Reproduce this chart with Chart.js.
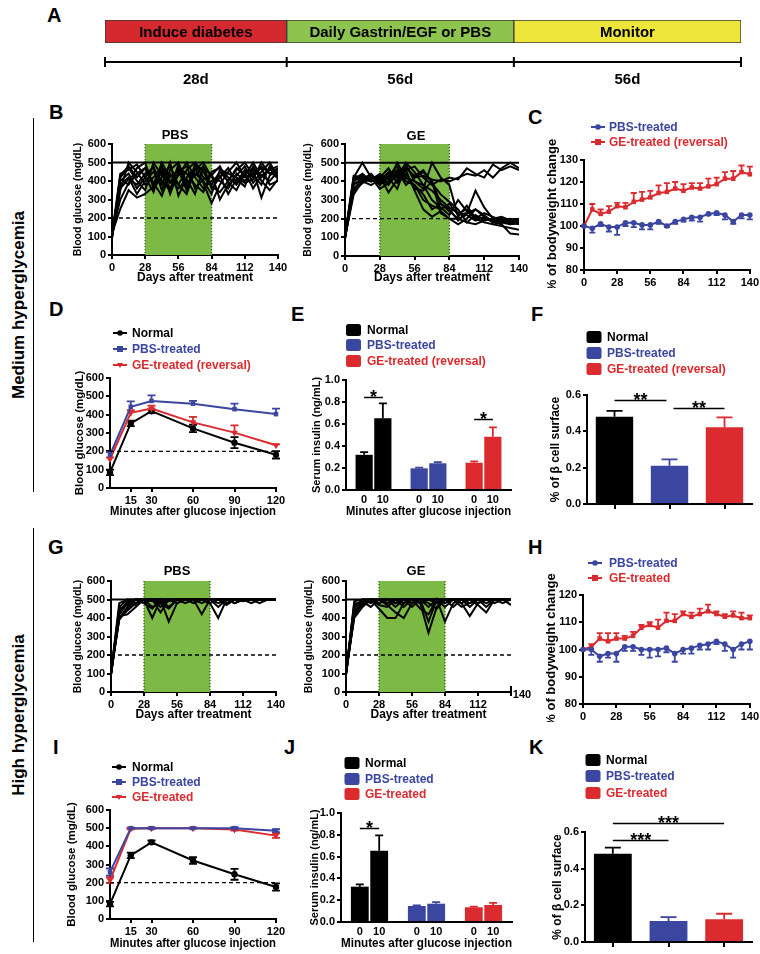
<!DOCTYPE html>
<html><head><meta charset="utf-8">
<script src="https://cdn.jsdelivr.net/npm/chart.js@4.4.1/dist/chart.umd.min.js"></script>
<style>
html,body{margin:0;padding:0;background:#fff;}
body{width:760px;height:954px;position:relative;overflow:hidden;font-family:'Liberation Sans',Arial,Helvetica,sans-serif;}
canvas{position:absolute;}
.lab{position:absolute;font-weight:bold;font-size:20px;line-height:20px;color:#000;}
.side{position:absolute;font-weight:bold;font-size:17px;line-height:20px;white-space:nowrap;transform:translate(-50%,-50%) rotate(-90deg);}
.vline{position:absolute;width:1px;background:#000;left:33px;}
</style></head><body>
<div class="lab" style="left:47px;top:5px">A</div>
<div class="lab" style="left:49px;top:102px">B</div>
<div class="lab" style="left:528px;top:107px">C</div>
<div class="lab" style="left:49px;top:299px">D</div>
<div class="lab" style="left:291px;top:304px">E</div>
<div class="lab" style="left:531px;top:304px">F</div>
<div class="lab" style="left:48px;top:537px">G</div>
<div class="lab" style="left:528px;top:537px">H</div>
<div class="lab" style="left:53px;top:737px">I</div>
<div class="lab" style="left:284px;top:737px">J</div>
<div class="lab" style="left:529px;top:737px">K</div>
<div class="side" style="left:19px;top:305px">Medium hyperglycemia</div>
<div class="side" style="left:19px;top:715px">High hyperglycemia</div>
<div class="vline" style="top:118px;height:374px"></div>
<div class="vline" style="top:528px;height:414px"></div>
<script>
const FONT = "'Liberation Sans', Arial, Helvetica, sans-serif";
const BLUE = '#3a469f', RED = '#dc2b2f', BLACK = '#000000';
const groupColors = [BLACK, BLUE, RED];

// ---------- Panel A ----------
const phaseNames = ['Induce diabetes', 'Daily Gastrin/EGF or PBS', 'Monitor'];
const phaseDurations = ['28d', '56d', '56d'];
const phaseWeight = [4, 5, 5];
const phaseColors = ['#d42a2f', '#8dc34f', '#eee53a'];

// ---------- Glucose time courses (B, G) ----------
const days = [0, 7, 14, 21, 28, 35, 42, 49, 56, 63, 70, 77, 84, 91, 98, 105, 112, 119, 126, 133, 140];
const dayTicksStep = 28;
const treatWindow = [28, 84];
const glucoseCap = 500;
const diabetesThreshold = 200;

const bPBSMice = [
  [100, 430, 480, 420, 470, 380, 500, 420, 460, 350, 490, 420, 380, 450, 400, 470, 430, 500, 420, 470, 410],
  [110, 400, 440, 360, 420, 480, 350, 460, 500, 390, 430, 480, 360, 420, 470, 390, 460, 420, 480, 440, 430],
  [95, 350, 500, 450, 380, 420, 470, 330, 450, 480, 360, 410, 440, 300, 380, 430, 480, 390, 450, 500, 420],
  [120, 300, 390, 470, 500, 360, 420, 480, 380, 330, 460, 500, 420, 400, 360, 440, 400, 460, 310, 430, 460],
  [105, 380, 420, 330, 400, 450, 380, 500, 320, 420, 470, 390, 280, 380, 450, 500, 420, 440, 470, 380, 400],
  [90, 420, 470, 400, 350, 500, 430, 390, 470, 440, 380, 340, 450, 470, 420, 380, 450, 360, 430, 460, 480],
  [115, 250, 350, 310, 330, 370, 450, 360, 430, 500, 420, 360, 400, 430, 330, 410, 370, 480, 400, 350, 410],
  [100, 410, 380, 440, 470, 390, 320, 440, 380, 460, 500, 450, 370, 340, 400, 460, 500, 430, 380, 480, 440],
  [110, 440, 460, 490, 420, 340, 480, 400, 360, 410, 330, 470, 430, 480, 390, 350, 440, 470, 430, 400, 450],
  [95, 360, 410, 380, 440, 470, 400, 350, 490, 370, 440, 400, 330, 460, 440, 420, 390, 410, 500, 440, 470]
];
const bGEMice = [
  [100, 420, 410, 400, 420, 380, 450, 420, 400, 380, 350, 300, 260, 230, 250, 210, 200, 190, 180, 170, 180],
  [90, 400, 430, 410, 390, 430, 480, 400, 380, 330, 250, 280, 240, 200, 220, 190, 210, 180, 190, 180, 190],
  [110, 380, 420, 430, 400, 450, 420, 500, 450, 380, 300, 260, 220, 300, 240, 200, 180, 170, 160, 150, 140],
  [100, 330, 400, 380, 410, 440, 400, 460, 480, 420, 380, 410, 400, 420, 440, 430, 460, 420, 470, 500, 470],
  [95, 350, 390, 420, 400, 420, 460, 380, 420, 430, 410, 400, 420, 410, 470, 440, 420, 490, 460, 480, 460],
  [100, 420, 500, 420, 380, 420, 360, 480, 420, 450, 400, 280, 250, 190, 230, 250, 220, 180, 170, 120, 115],
  [105, 410, 440, 400, 420, 470, 390, 440, 360, 350, 400, 230, 200, 170, 200, 250, 210, 190, 200, 180, 170],
  [100, 360, 410, 440, 390, 400, 500, 420, 380, 300, 270, 250, 280, 220, 230, 350, 260, 200, 180, 190, 180],
  [110, 430, 420, 410, 440, 410, 440, 470, 430, 460, 390, 330, 290, 250, 180, 220, 190, 200, 210, 190, 200],
  [95, 390, 400, 420, 360, 390, 430, 490, 400, 360, 500, 420, 380, 210, 270, 200, 230, 210, 190, 170, 175],
  [100, 410, 420, 400, 430, 340, 410, 460, 350, 250, 210, 240, 200, 200, 180, 170, 190, 200, 190, 200, 190]
];
const gPBSMice = [
  [100, 400, 460, 500, 500, 500, 480, 500, 500, 500, 500, 500, 500, 480, 500, 500, 500, 500, 500, 500, 500],
  [90, 420, 480, 470, 500, 400, 500, 490, 500, 500, 500, 420, 500, 500, 500, 500, 500, 500, 500, 500, 500],
  [110, 390, 450, 500, 480, 450, 500, 380, 480, 500, 500, 500, 480, 400, 500, 480, 500, 500, 500, 500, 500],
  [100, 440, 480, 500, 500, 500, 430, 500, 500, 500, 500, 500, 500, 500, 470, 500, 500, 480, 500, 500, 500],
  [95, 410, 420, 460, 500, 460, 480, 450, 500, 500, 500, 480, 500, 460, 500, 500, 490, 500, 500, 500, 500],
  [105, 480, 500, 500, 500, 500, 500, 500, 480, 500, 500, 500, 500, 500, 500, 500, 500, 500, 500, 500, 500],
  [100, 450, 470, 500, 480, 500, 500, 460, 500, 500, 500, 500, 480, 500, 500, 500, 500, 500, 500, 500, 500],
  [110, 400, 440, 480, 500, 490, 500, 500, 500, 500, 480, 500, 500, 500, 480, 500, 500, 500, 500, 500, 500],
  [95, 460, 500, 480, 500, 500, 460, 500, 500, 480, 500, 500, 500, 500, 500, 480, 500, 500, 480, 500, 500],
  [100, 430, 490, 500, 500, 500, 500, 500, 500, 500, 500, 500, 500, 500, 500, 500, 500, 500, 500, 500, 500]
];
const gGEMice = [
  [100, 430, 480, 500, 450, 400, 400, 480, 500, 480, 320, 460, 500, 500, 480, 410, 480, 500, 500, 500, 470],
  [90, 450, 500, 480, 500, 470, 430, 400, 480, 500, 380, 500, 380, 480, 500, 500, 470, 430, 500, 500, 500],
  [110, 400, 460, 500, 480, 500, 480, 500, 460, 500, 500, 480, 500, 500, 460, 480, 500, 500, 480, 500, 500],
  [100, 470, 490, 460, 500, 480, 500, 460, 500, 450, 420, 500, 480, 500, 500, 500, 500, 460, 500, 500, 500],
  [95, 420, 500, 500, 500, 500, 460, 500, 500, 500, 500, 500, 500, 460, 500, 480, 500, 500, 500, 480, 500],
  [105, 480, 480, 500, 470, 460, 500, 480, 500, 500, 480, 450, 500, 500, 500, 500, 480, 500, 500, 500, 500],
  [100, 460, 500, 490, 500, 500, 500, 500, 480, 500, 500, 500, 500, 500, 500, 500, 500, 480, 500, 500, 500],
  [110, 440, 470, 500, 500, 480, 500, 500, 500, 500, 460, 500, 460, 500, 500, 500, 500, 500, 500, 500, 500],
  [95, 490, 500, 500, 500, 500, 500, 500, 500, 480, 500, 500, 500, 500, 480, 500, 500, 500, 500, 500, 500],
  [100, 410, 480, 500, 480, 500, 480, 500, 500, 500, 500, 500, 500, 500, 500, 460, 500, 500, 500, 500, 500]
];

// ---------- Bodyweight (C, H) ----------
const cPBS    = [100, 99, 101, 99.5, 99.5, 101.5, 101.5, 100.5, 100.5, 102, 100, 102, 103, 104, 104, 105.5, 106, 105, 102, 105, 105];
const cPBSErr = [0, 2, 1, 2, 3.5, 1.5, 2, 2, 2, 1, 0.5, 1, 1, 1.5, 2, 0.5, 1, 2, 1, 1.5, 2];
const cGE     = [100, 107.5, 105.5, 106.5, 109, 108.5, 111, 112, 113, 115, 115.5, 117, 116, 117.5, 117, 118, 119, 121.5, 121.5, 124.5, 123.5];
const cGEErr  = [0, 2.5, 2, 2.5, 1.5, 2, 4, 3.5, 3, 3.5, 4, 3, 3, 2, 2.5, 3.5, 3, 3, 3.5, 3, 3.5];
const hPBS    = [100, 100, 97.5, 98.5, 98.5, 101, 101, 100, 100, 100, 100.5, 98.5, 100, 100.5, 101.5, 102, 103, 102, 100, 102, 103];
const hPBSErr = [0, 2, 2, 1.5, 3, 1.5, 1.5, 2, 3, 2.5, 1.5, 3, 1.5, 2, 1.5, 2, 1, 2.5, 3, 2, 3];
const hGE     = [100, 101, 104, 103, 104, 104, 105, 108, 109, 108, 110.5, 110.5, 113, 112, 113, 114, 113, 112, 112.5, 111.5, 111.5];
const hGEErr  = [0, 1, 2, 3, 2, 1, 1.5, 1, 1, 3, 3, 2.5, 1, 1.5, 2, 2.5, 1, 1, 1.5, 2, 1];

// ---------- OGTT (D, I) ----------
const ogttMinutes = [0, 15, 30, 60, 90, 120];
const ogttTicks = [15, 30, 60, 90, 120];
const dNormal = [85, 352, 419, 325, 247, 181];
const dNormalErr = [15, 15, 10, 20, 30, 20];
const dPBS = [181, 443, 475, 460, 430, 403];
const dPBSErr = [15, 30, 30, 15, 30, 30];
const dGE = [157, 410, 434, 358, 302, 233];
const dGEErr = [10, 15, 15, 30, 40, 5];
const iNormal = [82, 350, 422, 322, 246, 176];
const iNormalErr = [12, 15, 10, 18, 30, 20];
const iPBS = [258, 500, 500, 500, 500, 486];
const iPBSErr = [20, 3, 3, 3, 5, 8];
const iGE = [213, 497, 500, 500, 493, 459];
const iGEErr = [15, 3, 3, 3, 6, 12];

// ---------- Serum insulin (E, J) ----------
const insulinTimes = ['0', '10'];
const mediumGroups = ['Normal', 'PBS-treated', 'GE-treated (reversal)'];
const highGroups = ['Normal', 'PBS-treated', 'GE-treated'];
const eIns0 = [0.32, 0.197, 0.248];
const eIns0Err = [0.025, 0.006, 0.012];
const eIns10 = [0.652, 0.243, 0.485];
const eIns10Err = [0.136, 0.01, 0.085];
const jIns0 = [0.324, 0.147, 0.135];
const jIns0Err = [0.022, 0.006, 0.006];
const jIns10 = [0.654, 0.168, 0.156];
const jIns10Err = [0.14, 0.015, 0.02];

// ---------- Beta cell surface (F, K) ----------
const fBeta = [0.48, 0.21, 0.422];
const fBetaErr = [0.033, 0.036, 0.055];
const kBeta = [0.481, 0.114, 0.124];
const kBetaErr = [0.034, 0.022, 0.03];

// ---------- chart defaults ----------
Chart.defaults.font.family = FONT;
Chart.defaults.font.weight = 'bold';
Chart.defaults.color = '#000';
Chart.defaults.animation = false;
Chart.defaults.responsive = false;
Chart.defaults.maintainAspectRatio = false;
Chart.defaults.devicePixelRatio = 1;
Chart.defaults.plugins.legend.display = false;
Chart.defaults.plugins.tooltip.enabled = false;
Chart.defaults.events = [];

function colAt(c, j) { return Array.isArray(c) ? c[j] : c; }

function drawMarker(ctx, style, x, y, r) {
  ctx.beginPath();
  if (style === 'circle') { ctx.arc(x, y, r, 0, Math.PI * 2); }
  else if (style === 'rect') { ctx.rect(x - r, y - r, 2 * r, 2 * r); }
  else if (style === 'triDown') { ctx.moveTo(x - r, y - r * 0.7); ctx.lineTo(x + r, y - r * 0.7); ctx.lineTo(x, y + r); ctx.closePath(); }
  ctx.fill();
}

const decor = {
  id: 'decor',
  beforeDatasetsDraw(chart, args, o) {
    const {ctx, chartArea: a} = chart;
    const x = chart.scales.x, y = chart.scales.y;
    (o.bands || []).forEach(b => {
      const x0 = x.getPixelForValue(b.from), x1 = x.getPixelForValue(b.to);
      ctx.save();
      ctx.fillStyle = '#7cba45';
      ctx.fillRect(x0, a.top, x1 - x0, a.bottom - a.top);
      ctx.strokeStyle = '#2c6a10'; ctx.lineWidth = 1.3; ctx.setLineDash([1.2, 1.8]);
      [x0, x1].forEach(px => { ctx.beginPath(); ctx.moveTo(px, a.top); ctx.lineTo(px, a.bottom); ctx.stroke(); });
      ctx.restore();
    });
    chart.data.datasets.forEach((ds, i) => {
      if (!ds.err) return;
      const meta = chart.getDatasetMeta(i);
      ctx.save();
      ctx.lineWidth = ds.errW || 1.8;
      meta.data.forEach((el, j) => {
        const raw = ds.data[j];
        const v = (raw && typeof raw === 'object') ? raw.y : raw;
        const e = ds.err[j];
        if (!e) return;
        const dir = ds.errDir || 'both';
        const y1 = y.getPixelForValue(dir === 'down' ? v : v + e);
        const y2 = y.getPixelForValue(dir === 'up' ? v : v - e);
        const cw = ds.capW || 3;
        ctx.strokeStyle = colAt(ds.errColor || ds.borderColor || ds.backgroundColor, j);
        ctx.beginPath();
        ctx.moveTo(el.x, y1); ctx.lineTo(el.x, y2);
        if (dir !== 'down') { ctx.moveTo(el.x - cw, y1); ctx.lineTo(el.x + cw, y1); }
        if (dir !== 'up') { ctx.moveTo(el.x - cw, y2); ctx.lineTo(el.x + cw, y2); }
        ctx.stroke();
      });
      ctx.restore();
    });
  },
  afterDatasetsDraw(chart, args, o) {
    const {ctx, chartArea: a} = chart;
    const x = chart.scales.x, y = chart.scales.y;
    const ox = o.ox || 0, oy = o.oy || 0;
    ctx.save();
    (o.hlines || []).forEach(h => {
      const py = y.getPixelForValue(h.v);
      ctx.save();
      ctx.strokeStyle = '#000'; ctx.lineWidth = h.w; ctx.setLineDash(h.dash);
      ctx.beginPath(); ctx.moveTo(a.left, py); ctx.lineTo(a.right, py); ctx.stroke();
      ctx.restore();
    });
    (o.sig || []).forEach(s => {
      const xa = chart.getDatasetMeta(s.a[0]).data[s.a[1]].x + (s.ia || 0);
      const xb = chart.getDatasetMeta(s.b[0]).data[s.b[1]].x - (s.ib || 0);
      const py = Math.round(y.getPixelForValue(s.y)) + 0.5;
      ctx.strokeStyle = '#000'; ctx.lineWidth = 1.5; ctx.setLineDash([]);
      ctx.beginPath(); ctx.moveTo(xa, py); ctx.lineTo(xb, py); ctx.stroke();
      ctx.fillStyle = '#000'; ctx.font = 'bold 18px ' + FONT;
      ctx.textAlign = 'center'; ctx.textBaseline = 'alphabetic';
      ctx.fillText(s.text, (xa + xb) / 2, py + 5);
    });
    if (o.barTicks) {
      ctx.fillStyle = '#000'; ctx.font = 'bold 11px ' + FONT;
      ctx.textAlign = 'center'; ctx.textBaseline = 'middle';
      o.barTicks.forEach((t, i) => {
        chart.getDatasetMeta(i).data.forEach(el => ctx.fillText(t, el.x, a.bottom + 10));
      });
    }
    if (o.legend) {
      const L = o.legend;
      L.items.forEach((it, k) => {
        const lx = L.x - ox, ly = L.ys[k] - oy;
        ctx.fillStyle = it.color; ctx.strokeStyle = it.color;
        if (L.type === 'box') {
          ctx.beginPath();
          if (ctx.roundRect) ctx.roundRect(lx - 7.5, ly - 6, 15, 12, 2.5); else ctx.rect(lx - 7.5, ly - 6, 15, 12);
          ctx.fill();
        } else {
          ctx.lineWidth = 2; ctx.setLineDash([]);
          ctx.beginPath(); ctx.moveTo(lx - 7, ly); ctx.lineTo(lx + 7, ly); ctx.stroke();
          drawMarker(ctx, it.marker, lx, ly, it.marker === 'circle' ? 2.8 : 3);
        }
        ctx.font = 'bold 12px ' + FONT; ctx.textAlign = 'left'; ctx.textBaseline = 'middle';
        ctx.fillStyle = it.color;
        ctx.fillText(it.text, L.tx - ox, ly + 0.5);
      });
    }
    (o.texts || []).forEach(t => {
      ctx.fillStyle = '#000'; ctx.font = 'bold ' + t.size + 'px ' + FONT;
      ctx.textAlign = 'center'; ctx.textBaseline = 'middle';
      ctx.fillText(t.t, t.x - ox, t.y - oy);
    });
    if (o.endTick) {
      ctx.strokeStyle = '#000'; ctx.lineWidth = 2;
      ctx.beginPath(); ctx.moveTo(a.right, a.bottom); ctx.lineTo(a.right, a.bottom - 6); ctx.stroke();
      ctx.fillStyle = '#000'; ctx.font = 'bold 11px ' + FONT;
      ctx.textAlign = 'center'; ctx.textBaseline = 'middle';
      ctx.fillText(o.endTick.t, o.endTick.x - ox, o.endTick.y - oy);
    }
    if (o.phase) {
      ctx.fillStyle = '#000'; ctx.font = 'bold 15px ' + FONT;
      ctx.textAlign = 'center'; ctx.textBaseline = 'middle';
      chart.data.datasets.forEach((ds, i) => {
        const el = chart.getDatasetMeta(i).data[0];
        ctx.fillText(phaseNames[i], (el.x + el.base) / 2, el.y + 1);
      });
      const bounds = [0];
      let cum = 0;
      phaseWeight.forEach(w => { cum += w; bounds.push(cum); });
      const px = bounds.map(v => x.getPixelForValue(v));
      const ty = o.lineY - oy;
      ctx.strokeStyle = '#000'; ctx.lineWidth = 2;
      ctx.beginPath(); ctx.moveTo(px[0], ty); ctx.lineTo(px[px.length - 1], ty); ctx.stroke();
      px.forEach(p => { ctx.beginPath(); ctx.moveTo(p, ty - 5); ctx.lineTo(p, ty + 5); ctx.stroke(); });
      for (let i = 0; i < phaseDurations.length; i++) {
        ctx.fillText(phaseDurations[i], (px[i] + px[i + 1]) / 2, o.labelY - oy);
      }
    }
    ctx.restore();
  }
};
Chart.register(decor);

function axisLin(min, max, step, title, tsize, cb) {
  const ax = {
    type: 'linear', min: min, max: max,
    ticks: {stepSize: step, font: {size: 11, weight: 'bold', family: FONT}, color: '#000', padding: 2, autoSkip: false, maxRotation: 0},
    grid: {display: true, drawOnChartArea: false, drawTicks: true, tickLength: 4, lineWidth: 2, color: '#000'},
    border: {display: true, color: '#000', width: 2},
    title: title ? {display: true, text: title, font: {size: tsize, weight: 'bold', family: FONT}, color: '#000', padding: 0} : {display: false}
  };
  if (cb) ax.ticks.callback = cb;
  return ax;
}
function catAxis(marks, title, tsize) {
  return {
    type: 'category', offset: true,
    ticks: {display: false},
    grid: {display: marks, drawOnChartArea: false, drawTicks: marks, tickLength: 5, lineWidth: 2, color: '#000', offset: false},
    border: {display: true, color: '#000', width: 2},
    title: title ? {display: true, text: title, font: {size: tsize, weight: 'bold', family: FONT}, color: '#000', padding: 0} : {display: false}
  };
}

function place(p, cfg) {
  const yW = p.l - p.yTx + p.yTs * 0.6;
  const cl = Math.round(p.l - yW);
  const ct = Math.round(p.t - p.pt);
  const xHt = (p.xTy != null) ? (p.xTy - p.b + p.xTs * 0.6) : p.xH;
  const cr = Math.round(p.r + p.pr);
  const cb = Math.round(p.b + xHt);
  const cv = document.createElement('canvas');
  cv.width = cr - cl; cv.height = cb - ct;
  cv.style.left = cl + 'px'; cv.style.top = ct + 'px';
  cv.style.width = (cr - cl) + 'px'; cv.style.height = (cb - ct) + 'px';
  document.body.appendChild(cv);
  const o = cfg.options;
  o.layout = {padding: {left: 0, top: p.t - ct, right: cr - p.r, bottom: 0}};
  o.scales.x.afterFit = s => { s.height = cb - p.b; };
  o.scales.y.afterFit = s => { s.width = p.l - cl; };
  o.plugins = o.plugins || {};
  o.plugins.decor = Object.assign({ox: cl, oy: ct}, o.plugins.decor || {});
  return new Chart(cv, cfg);
}

// ---------- Panel A ----------
(function () {
  const cv = document.createElement('canvas');
  const cl = 95, ct = 10, w = 660, h = 85;
  cv.width = w; cv.height = h;
  cv.style.left = cl + 'px'; cv.style.top = ct + 'px'; cv.style.width = w + 'px'; cv.style.height = h + 'px';
  document.body.appendChild(cv);
  const total = phaseWeight.reduce((s, v) => s + v, 0);
  new Chart(cv, {
    type: 'bar',
    data: {labels: ['phase'], datasets: phaseNames.map((n, i) => ({
      label: n, data: [phaseWeight[i]], backgroundColor: phaseColors[i],
      borderColor: '#3a3a3a', borderWidth: 1, borderSkipped: false, barPercentage: 1, categoryPercentage: 1
    }))},
    options: {
      indexAxis: 'y',
      layout: {padding: {left: 10, top: 10, right: w - 10 - 636, bottom: h - 10 - 23}},
      scales: {x: {stacked: true, display: false, min: 0, max: total}, y: {stacked: true, display: false}},
      plugins: {decor: {ox: cl, oy: ct, phase: true, lineY: 62, labelY: 80}}
    }
  });
})();

// ---------- spaghetti panels ----------
function spaghettiCfg(mice, titleText, tx, ty, quirk) {
  return {
    type: 'line',
    data: {datasets: mice.map(m => ({
      data: days.map((d, i) => ({x: d, y: m[i]})),
      borderColor: '#000', borderWidth: 2, pointRadius: 0, tension: 0
    }))},
    options: {
      scales: {
        x: axisLin(0, 140, dayTicksStep, 'Days after treatment', 12, quirk ? (v => (v === 140 ? '' : v)) : null),
        y: axisLin(0, 600, 100, 'Blood glucose (mg/dL)', 10.5)
      },
      plugins: {decor: {
        bands: [{from: treatWindow[0], to: treatWindow[1]}],
        hlines: [{v: glucoseCap, w: 2, dash: []}, {v: diabetesThreshold, w: 1.3, dash: [4, 3]}],
        texts: [{t: titleText, x: tx, y: ty, size: 13}],
        endTick: quirk ? {t: '140', x: 522, y: 695} : null
      }}
    }
  };
}
place({l: 112, t: 144, r: 278, b: 255, yTx: 78, yTs: 10.5, xTy: 278, xTs: 12, pt: 22, pr: 14}, spaghettiCfg(bPBSMice, 'PBS', 175, 135.5, false));
place({l: 345, t: 144, r: 519, b: 256, yTx: 308, yTs: 10.5, xTy: 278, xTs: 12, pt: 22, pr: 14}, spaghettiCfg(bGEMice, 'GE', 416, 136.5, false));
place({l: 111, t: 581, r: 276, b: 692, yTx: 78, yTs: 10.5, xTy: 715, xTs: 12, pt: 22, pr: 14}, spaghettiCfg(gPBSMice, 'PBS', 177, 571, false));
place({l: 346, t: 581, r: 511, b: 692, yTx: 309, yTs: 10.5, xTy: 715, xTs: 12, pt: 22, pr: 24}, spaghettiCfg(gGEMice, 'GE', 416, 571, true));

// ---------- bodyweight panels ----------
function bwCfg(pbs, pbsErr, ge, geErr, min, max, geName, legX, legYs) {
  const mk = (vals) => days.map((d, i) => ({x: d, y: vals[i]}));
  return {
    type: 'line',
    data: {datasets: [
      {data: mk(pbs), err: pbsErr, errDir: 'down', capW: 3, borderColor: BLUE, backgroundColor: BLUE, borderWidth: 2,
       pointStyle: 'circle', pointRadius: 2.8, pointBorderWidth: 0, tension: 0, clip: false},
      {data: mk(ge), err: geErr, errDir: 'up', capW: 3, borderColor: RED, backgroundColor: RED, borderWidth: 2,
       pointStyle: 'rect', pointRadius: 3.2, pointBorderWidth: 0, tension: 0, clip: false}
    ]},
    options: {
      scales: {
        x: axisLin(0, 140, dayTicksStep, null),
        y: axisLin(min, max, 10, '% of bodyweight change', 13)
      },
      plugins: {decor: {legend: {type: 'line', x: legX, tx: 609, ys: legYs, items: [
        {text: 'PBS-treated', color: BLUE, marker: 'circle'},
        {text: geName, color: RED, marker: 'rect'}
      ]}}}
    }
  };
}
place({l: 584, t: 160, r: 750, b: 270, yTx: 553, yTs: 13, xH: 18, pt: 44, pr: 11}, bwCfg(cPBS, cPBSErr, cGE, cGEErr, 80, 130, 'GE-treated (reversal)', 598, [127, 142]));
place({l: 583, t: 595, r: 750, b: 704, yTx: 552, yTs: 13, xH: 18, pt: 44, pr: 11}, bwCfg(hPBS, hPBSErr, hGE, hGEErr, 80, 120, 'GE-treated', 595, [563, 578]));

// ---------- OGTT panels ----------
function ogttCfg(nv, ne, pv, pe, gv, ge, names, dirs, legX, legYs) {
  const mk = (vals) => ogttMinutes.map((m, i) => ({x: m, y: vals[i]}));
  const ax = axisLin(0, 120, 15, 'Minutes after glucose injection', 12);
  ax.afterBuildTicks = s => { s.ticks = ogttTicks.map(v => ({value: v})); };
  return {
    type: 'line',
    data: {datasets: [
      {data: mk(pv), err: pe, errDir: dirs[1], capW: 4, borderColor: BLUE, backgroundColor: BLUE, borderWidth: 2,
       pointStyle: 'rect', pointRadius: 3.2, pointBorderWidth: 0, tension: 0, clip: false},
      {data: mk(gv), err: ge, errDir: dirs[2], capW: 4, borderColor: RED, backgroundColor: RED, borderWidth: 2,
       pointStyle: 'triangle', rotation: 180, pointRadius: 4, pointBorderWidth: 0, tension: 0, clip: false},
      {data: mk(nv), err: ne, errDir: dirs[0], capW: 4, borderColor: BLACK, backgroundColor: BLACK, borderWidth: 2,
       pointStyle: 'circle', pointRadius: 3.2, pointBorderWidth: 0, tension: 0, clip: false}
    ]},
    options: {
      scales: {x: ax, y: axisLin(0, 600, 100, 'Blood glucose (mg/dL)', 11.5)},
      plugins: {decor: {
        hlines: [{v: diabetesThreshold, w: 1.3, dash: [4, 3]}],
        legend: {type: 'line', x: legX, tx: 132, ys: legYs, items: [
          {text: names[0], color: BLACK, marker: 'circle'},
          {text: names[1], color: BLUE, marker: 'rect'},
          {text: names[2], color: RED, marker: 'triDown'}
        ]}
      }}
    }
  };
}
place({l: 110, t: 378, r: 276, b: 488, yTx: 80, yTs: 11.5, xTy: 512, xTs: 12, pt: 58, pr: 14},
  ogttCfg(dNormal, dNormalErr, dPBS, dPBSErr, dGE, dGEErr, mediumGroups, ['both', 'up', 'up'], 120, [333, 349, 365]));
place({l: 110, t: 810, r: 276, b: 919, yTx: 72, yTs: 11.5, xTy: 944, xTs: 12, pt: 58, pr: 14},
  ogttCfg(iNormal, iNormalErr, iPBS, iPBSErr, iGE, iGEErr, highGroups, ['both', 'both', 'both'], 119, [767, 782, 797]));

// ---------- insulin panels ----------
function insulinCfg(v0, e0, v10, e10, names, sig, legX, legTx, legYs) {
  return {
    type: 'bar',
    data: {labels: names, datasets: [
      {data: v0, err: e0, errDir: 'up', capW: 4, backgroundColor: groupColors, categoryPercentage: 0.68, barPercentage: 0.92},
      {data: v10, err: e10, errDir: 'up', capW: 4, backgroundColor: groupColors, categoryPercentage: 0.68, barPercentage: 0.92}
    ]},
    options: {
      scales: {
        x: catAxis(false, 'Minutes after glucose injection', 12),
        y: axisLin(0, 1, 0.2, 'Serum insulin (ng/mL)', 11, v => Number(v).toFixed(1))
      },
      plugins: {decor: {
        barTicks: insulinTimes, sig: sig,
        legend: {type: 'box', x: legX, tx: legTx, ys: legYs, items: names.map((n, i) => ({text: n, color: groupColors[i]}))}
      }}
    }
  };
}
place({l: 346, t: 380, r: 511, b: 490, yTx: 317, yTs: 11, xTy: 512, xTs: 12, pt: 60, pr: 10},
  insulinCfg(eIns0, eIns0Err, eIns10, eIns10Err, mediumGroups,
    [{a: [0, 0], b: [1, 0], y: 0.845, text: '*'}, {a: [0, 2], b: [1, 2], y: 0.645, text: '*'}], 353.5, 367, [330, 345, 361]));
place({l: 341, t: 813, r: 512, b: 922, yTx: 315, yTs: 11, xTy: 944, xTs: 12, pt: 62, pr: 10},
  insulinCfg(jIns0, jIns0Err, jIns10, jIns10Err, highGroups,
    [{a: [0, 0], b: [1, 0], y: 0.865, text: '*'}], 352, 365, [763, 779, 794]));

// ---------- beta cell panels ----------
function betaCfg(vals, errs, names, sig, legX, legTx, legYs) {
  return {
    type: 'bar',
    data: {labels: names, datasets: [
      {data: vals, err: errs, errDir: 'up', capW: 8, backgroundColor: groupColors, categoryPercentage: 1, barPercentage: 0.68}
    ]},
    options: {
      scales: {
        x: catAxis(true, null),
        y: axisLin(0, 0.6, 0.2, '% of \u03b2 cell surface', 12, v => Number(v).toFixed(1))
      },
      plugins: {decor: {
        sig: sig,
        legend: {type: 'box', x: legX, tx: legTx, ys: legYs, items: names.map((n, i) => ({text: n, color: groupColors[i]}))}
      }}
    }
  };
}
place({l: 587, t: 395, r: 752, b: 504, yTx: 555, yTs: 12, xH: 12, pt: 68, pr: 8},
  betaCfg(fBeta, fBetaErr, mediumGroups,
    [{a: [0, 0], b: [0, 1], y: 0.572, text: '**', ib: 3}, {a: [0, 1], b: [0, 2], y: 0.528, text: '**', ia: 4}], 594, 607, [337, 353, 369]));
place({l: 585, t: 832, r: 752, b: 942, yTx: 557, yTs: 12, xH: 10, pt: 82, pr: 8},
  betaCfg(kBeta, kBetaErr, highGroups,
    [{a: [0, 0], b: [0, 1], y: 0.557, text: '***'}, {a: [0, 0], b: [0, 2], y: 0.649, text: '***'}], 593, 606, [760, 776, 793]));
</script>
</body></html>
